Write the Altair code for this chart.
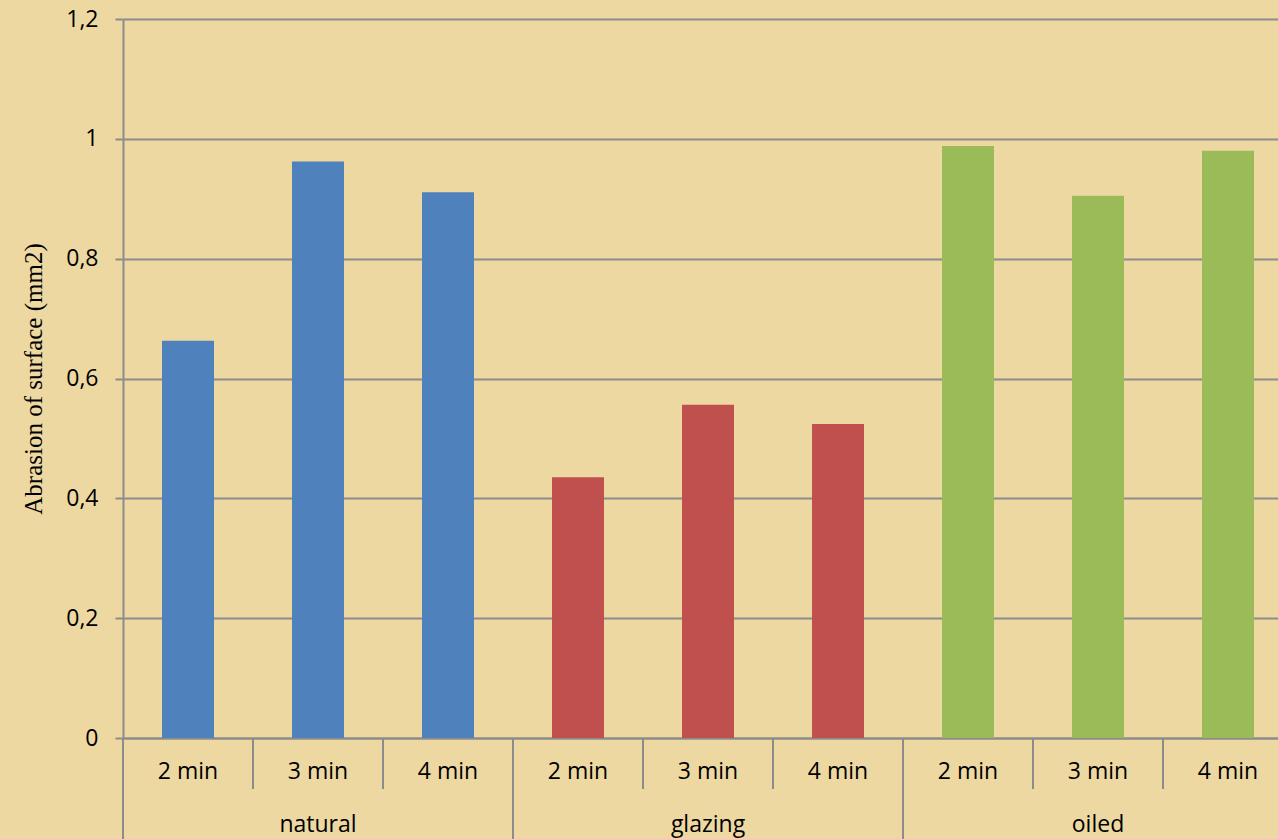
import altair as alt
import pandas as pd

groups = ["natural", "glazing", "oiled"]
minutes = ["2 min", "3 min", "4 min"]
natural_vals = [0.663, 0.962, 0.911]
glazing_vals = [0.435, 0.556, 0.524]
oiled_vals = [0.988, 0.905, 0.980]
colors = ["#4F81BD", "#C0504D", "#9BBB59"]
y_ticks = [0, 0.2, 0.4, 0.6, 0.8, 1.0, 1.2]

vals = {"natural": natural_vals, "glazing": glazing_vals, "oiled": oiled_vals}
rows = []
for g in groups:
    for m, v in zip(minutes, vals[g]):
        rows.append({"key": f"{g}|{m}", "group": g, "minute": m, "value": v})
df = pd.DataFrame(rows)
order = list(df["key"])

# the original chart is cut at the right edge: band scale runs a little past the view
xscale = alt.Scale(domain=order, paddingInner=0, paddingOuter=0, range=[0, 1170])
xenc = alt.X("key:N", scale=xscale, sort=order,
             axis=alt.Axis(labels=False, ticks=False, title=None, domain=True,
                           domainColor="#8C8C8C", domainWidth=2, grid=False))

bars = alt.Chart(df).mark_bar(width=alt.RelativeBandSize(0.4)).encode(
    x=xenc,
    y=alt.Y("value:Q", scale=alt.Scale(domain=[0, 1.2], nice=False),
            axis=alt.Axis(values=y_ticks, title="Abrasion of surface (mm2)",
                          labelExpr="replace(format(datum.value, '.1~f'), '.', ',')",
                          labelFont="Open Sans", labelFontSize=23, labelColor="#000000",
                          labelPadding=17, tickSize=8, tickColor="#8C8C8C", tickWidth=2,
                          domainColor="#8C8C8C", domainWidth=2,
                          gridColor="#8C8C8C", gridWidth=2, grid=True,
                          titleFont="Liberation Serif", titleFontSize=25,
                          titleFontWeight="normal", titleColor="#000000",
                          titleX=-90, titleY=359.5, titleAlign="center",
                          titleBaseline="middle", titleAngle=-90)),
    color=alt.Color("group:N", scale=alt.Scale(domain=groups, range=colors), legend=None),
)

minor = df[df["minute"] != "2 min"]
major = df[df["minute"] == "2 min"]

minor_rules = alt.Chart(minor).mark_rule(color="#8C8C8C", strokeWidth=2).encode(
    x=alt.X("key:N", scale=xscale, sort=order, bandPosition=0),
    y=alt.value(719), y2=alt.value(770),
)
major_rules = alt.Chart(major).mark_rule(color="#8C8C8C", strokeWidth=2).encode(
    x=alt.X("key:N", scale=xscale, sort=order, bandPosition=0),
    y=alt.value(719), y2=alt.value(822),
)

minute_text = alt.Chart(df).mark_text(font="Open Sans", fontSize=23, color="#000000",
                                      baseline="middle", align="center").encode(
    x=alt.X("key:N", scale=xscale, sort=order, bandPosition=0.5),
    y=alt.value(753),
    text="minute:N",
)
mid = df[df["minute"] == "3 min"]
group_text = alt.Chart(mid).mark_text(font="Open Sans", fontSize=23, color="#000000",
                                      baseline="middle", align="center").encode(
    x=alt.X("key:N", scale=xscale, sort=order, bandPosition=0.5),
    y=alt.value(806),
    text="group:N",
)

chart = alt.layer(bars, minor_rules, major_rules, minute_text, group_text).properties(
    width=1155, height=719,
    autosize=alt.AutoSizeParams(type="none"),
    padding={"left": 123, "top": 19, "right": 0, "bottom": 101},
    background="#EED8A2",
).configure_view(stroke=None)

chart.save("out.html", embed_options={"renderer": "svg", "actions": False})
